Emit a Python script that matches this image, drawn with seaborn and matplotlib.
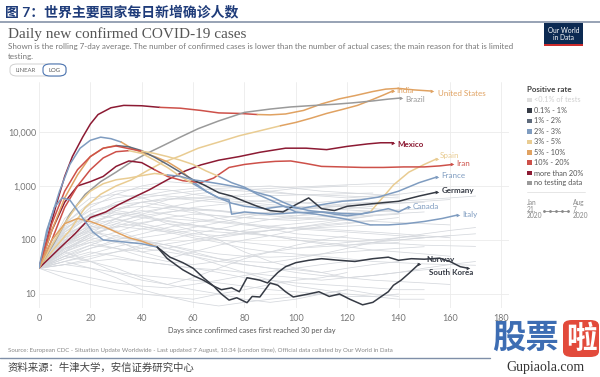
import numpy as np
import pandas as pd
import seaborn as sns
import matplotlib.pyplot as plt
from matplotlib.patches import Rectangle, FancyBboxPatch
from matplotlib.lines import Line2D

sns.set_theme(style="white")
plt.rcParams['font.family'] = ['Lato', 'Noto Sans CJK SC', 'DejaVu Sans']

# positive-rate bins (legend)
rate_labels = ['<0.1% of tests', '0.1% - 1%', '1% - 2%', '2% - 3%', '3% - 5%',
               '5% - 10%', '10% - 20%', 'more than 20%', 'no testing data']
rate_colors = ['#dedede', '#363b45', '#5e6a7b', '#7f9cc0', '#e9cc92',
               '#e0a262', '#cd5049', '#8c1a33', '#9a9a9a']

# highlighted countries: days since 30/day, 7-day avg cases, positive-rate bin periods
us_days = [0, 4, 7, 10, 13, 17, 20, 23, 28, 33, 40, 47, 55, 63, 70, 78, 85, 90, 96, 103, 110, 117, 123, 130, 135, 140, 146, 153]
us_cases = [30, 150, 500, 1500, 3500, 8000, 14000, 21000, 28000, 31000, 30500, 28500, 27500, 25000, 22500, 22000, 21000, 20700, 21500, 25000, 33000, 41000, 47000, 56000, 62000, 64000, 60000, 57000]
us_rate = [(0, 7), (45, 6), (80, 5)]

in_days = [0, 6, 12, 18, 24, 30, 36, 42, 48, 55, 62, 70, 78, 86, 94, 100, 106, 112, 118, 124, 130, 134, 138]
in_cases = [30, 70, 150, 400, 700, 1000, 1300, 1900, 2700, 3600, 5000, 6500, 8500, 10500, 13000, 15000, 18000, 22000, 26000, 31000, 40000, 48000, 58000]
in_rate = [(0, 4), (90, 5)]

br_days = [0, 6, 12, 18, 24, 30, 36, 42, 47, 55, 62, 70, 80, 90, 98, 105, 115, 122, 130, 136, 141]
br_cases = [30, 90, 300, 700, 1200, 1800, 2800, 4000, 5200, 8000, 11500, 16000, 23000, 26500, 29000, 30500, 32500, 34500, 37500, 40500, 42500]
br_rate = [(0, 8)]

mx_days = [0, 8, 14, 20, 26, 31, 37, 43, 50, 57, 63, 70, 78, 86, 96, 104, 112, 120, 128, 133, 138]
mx_cases = [30, 70, 130, 260, 330, 450, 620, 850, 1300, 1900, 2450, 3000, 3500, 4200, 5000, 5000, 4700, 5400, 6000, 6300, 6300]
mx_rate = [(0, 7)]

es_days = [0, 4, 8, 12, 16, 20, 24, 28, 32, 36, 40, 45, 50, 55, 60, 65, 70, 74, 75, 80, 90, 100, 110, 118, 125, 129, 133, 138, 144, 150, 155]
es_cases = [30, 200, 800, 2500, 5000, 7000, 8000, 7500, 6500, 5000, 4200, 3500, 2800, 2000, 1200, 800, 600, 550, 300, 330, 300, 320, 330, 310, 300, 330, 550, 1040, 1800, 2500, 3200]
es_rate = [(0, 3), (30, 5), (60, 3), (128, 4)]

ir_days = [0, 5, 10, 15, 20, 25, 30, 35, 40, 45, 50, 56, 63, 68, 74, 80, 86, 92, 98, 104, 110, 118, 126, 134, 142, 150, 156, 161]
ir_cases = [30, 150, 500, 1000, 1200, 1500, 2300, 2900, 2700, 2000, 1500, 1250, 1150, 1400, 2200, 2500, 2700, 2850, 2900, 2600, 2300, 2250, 2200, 2200, 2250, 2250, 2350, 2500]
ir_rate = [(0, 7), (45, 6)]

fr_days = [0, 5, 10, 15, 20, 25, 30, 35, 40, 45, 50, 55, 60, 65, 70, 75, 80, 88, 95, 102, 110, 118, 125, 132, 140, 148, 155]
fr_cases = [30, 100, 400, 1000, 2000, 3300, 4300, 4500, 4000, 3000, 2200, 1500, 1100, 800, 600, 480, 420, 380, 420, 380, 450, 520, 550, 620, 800, 1150, 1470]
fr_rate = [(0, 6), (35, 4), (60, 3)]

de_days = [0, 5, 10, 15, 20, 25, 30, 35, 40, 45, 50, 55, 60, 65, 70, 75, 80, 85, 90, 95, 100, 105, 110, 115, 120, 130, 140, 148, 155]
de_cases = [30, 150, 600, 1600, 3500, 5000, 5600, 5300, 4500, 3400, 2500, 1800, 1300, 1000, 750, 650, 520, 420, 350, 330, 450, 600, 380, 350, 420, 470, 520, 650, 770]
de_rate = [(0, 5), (30, 2), (60, 1)]

it_days = [0, 5, 10, 15, 20, 25, 30, 35, 40, 45, 50, 55, 60, 65, 70, 75, 80, 85, 90, 95, 100, 108, 116, 122, 129, 136, 143, 150, 157, 163]
it_cases = [30, 200, 800, 2000, 3500, 5000, 5500, 4900, 4400, 4000, 3500, 3000, 2500, 1900, 1500, 1150, 950, 700, 550, 430, 330, 300, 260, 230, 190, 190, 200, 220, 250, 290]
it_rate = [(0, 6), (40, 4), (70, 3)]

ca_days = [0, 5, 10, 15, 20, 25, 30, 35, 40, 45, 50, 55, 60, 65, 70, 75, 80, 85, 90, 95, 100, 105, 110, 115, 120, 125, 130, 136, 140, 144]
ca_cases = [30, 80, 200, 450, 800, 1100, 1300, 1400, 1550, 1700, 1600, 1500, 1300, 1200, 1100, 1000, 900, 750, 650, 500, 400, 350, 330, 300, 280, 300, 330, 380, 330, 410]
ca_rate = [(0, 4), (50, 3)]

no_days = [0, 5, 10, 15, 20, 25, 30, 35, 40, 46, 51, 56, 60, 64, 68, 71, 74, 77, 81, 83, 86, 90, 93, 96, 99, 105, 109, 113, 117, 121, 126, 130, 133, 136, 138, 141, 144, 148]
no_cases = [30, 100, 200, 250, 220, 180, 140, 110, 95, 74, 48, 38, 30, 20, 14, 10, 7.7, 8.5, 6.9, 9, 8.8, 16, 14.5, 11, 8.8, 10, 11, 9, 10, 8, 6.3, 7, 8.8, 11, 14.5, 18, 24, 36]
no_rate = [(0, 5), (46, 1)]

kr_days = [0, 3, 6, 9, 12, 15, 18, 21, 25, 30, 35, 40, 46, 50, 56, 60, 64, 68, 71, 75, 78, 81, 86, 89, 93, 96, 100, 105, 110, 117, 123, 130, 136, 140, 145, 150, 156, 160, 164, 167]
kr_cases = [30, 150, 400, 600, 550, 350, 220, 140, 100, 95, 90, 85, 74, 45, 28, 22, 18, 14, 12, 13, 11, 20, 18, 16, 25, 32, 38, 42, 45, 42, 40, 45, 48, 42, 45, 44, 46, 40, 32, 30]
kr_rate = [(0, 3), (46, 1)]

countries = {
    'United States': (us_days, us_cases, us_rate),
    'India': (in_days, in_cases, in_rate),
    'Brazil': (br_days, br_cases, br_rate),
    'Mexico': (mx_days, mx_cases, mx_rate),
    'Spain': (es_days, es_cases, es_rate),
    'Iran': (ir_days, ir_cases, ir_rate),
    'France': (fr_days, fr_cases, fr_rate),
    'Germany': (de_days, de_cases, de_rate),
    'Canada': (ca_days, ca_cases, ca_rate),
    'Italy': (it_days, it_cases, it_rate),
    'Norway': (no_days, no_cases, no_rate),
    'South Korea': (kr_days, kr_cases, kr_rate),
}

# all other countries (grey), sampled every 10 days
bg_step = 10
bg_lines = [
    [30, 120, 300, 450, 500, 420, 380, 350, 300, 320, 350, 400, 450, 500, 520, 560, 600, 650],
    [30, 80, 150, 200, 180, 150, 120, 100, 90, 80, 70, 75, 80, 90, 100, 110, 120],
    [30, 60, 90, 110, 100, 80, 60, 45, 35, 30, 28, 25, 30, 35, 40],
    [30, 200, 500, 800, 900, 850, 700, 600, 550, 500, 480, 500, 550, 600, 700, 800],
    [30, 40, 50, 60, 70, 85, 100, 120, 150, 180, 200, 220, 250, 280, 300],
    [30, 100, 250, 350, 300, 200, 150, 100, 60, 40, 30, 25, 20, 22, 25, 30, 35, 40],
    [30, 50, 40, 30, 20, 15, 12, 10, 8, 7, 8, 10, 12, 10, 9],
    [30, 150, 400, 700, 1000, 1200, 1100, 1000, 900, 800, 700, 650, 600, 650, 700],
    [30, 70, 120, 180, 250, 320, 400, 450, 500, 550, 500, 450, 400, 380, 350],
    [30, 90, 200, 300, 350, 300, 250, 220, 200, 180, 160, 150, 140, 130, 120, 110],
    [30, 45, 60, 50, 40, 35, 30, 28, 25, 22, 20, 18, 20, 22, 25, 28, 30],
    [30, 110, 180, 150, 100, 70, 50, 35, 25, 18, 14, 12, 10, 9, 8, 8],
    [30, 60, 100, 140, 200, 260, 300, 280, 260, 240, 250, 270, 300, 320],
    [30, 250, 600, 700, 600, 450, 350, 250, 200, 160, 130, 120, 110, 100, 100, 110, 120, 130],
    [30, 35, 45, 60, 80, 100, 130, 160, 200, 240, 280, 330, 380, 420],
    [30, 130, 200, 240, 200, 160, 130, 120, 130, 150, 170, 190, 210, 230],
    [30, 70, 90, 70, 50, 40, 35, 40, 50, 60, 70, 80, 90, 100, 110, 120],
    [30, 180, 350, 450, 600, 700, 800, 900, 950, 1000, 900, 800, 750, 700, 650],
    [30, 40, 30, 20, 12, 9, 7, 6, 7, 8, 9, 10, 12],
    [30, 100, 150, 100, 60, 45, 60, 80, 100, 120, 150, 180, 200, 230, 260],
    [30, 55, 80, 120, 160, 200, 180, 160, 140, 120, 100, 90, 80, 85, 90],
    [30, 160, 300, 250, 180, 140, 110, 90, 70, 60, 55, 50, 45, 40, 38, 36, 35, 34],
    [30, 80, 180, 350, 500, 600, 550, 500, 450, 420, 400, 380, 360, 340, 330],
    [30, 35, 40, 45, 40, 35, 30, 25, 20, 18, 16, 15, 14, 13, 12, 12],
    [30, 90, 140, 120, 90, 70, 55, 45, 40, 38, 45, 55, 70, 90, 110, 130, 150, 170],
    [30, 65, 110, 200, 300, 400, 500, 600, 700, 800, 900, 950, 1000],
    [30, 20, 15, 12, 10, 9, 8, 10, 12, 15, 18, 20, 25],
    [30, 140, 260, 380, 420, 380, 320, 280, 260, 240, 230, 250, 270, 290, 310, 330],
    [30, 75, 130, 170, 210, 250, 230, 210, 190, 170, 160, 170, 180, 190],
    [30, 50, 70, 90, 110, 130, 150, 140, 130, 120, 110, 100, 95, 90, 85, 80, 78, 76],
    [30, 90, 160, 220, 280, 330, 360, 340, 300, 280, 260, 240, 230, 220, 210, 200, 190],
    [30, 45, 70, 100, 130, 170, 210, 250, 290, 330, 370, 400, 430, 460, 480, 500],
    [30, 120, 220, 300, 260, 220, 190, 160, 140, 150, 170, 200, 240, 280],
    [30, 25, 20, 16, 14, 13, 15, 18, 22, 26, 30, 35, 40, 45],
    [30, 60, 40, 25, 18, 15, 20, 30, 45, 60, 80, 100, 120],
    [30, 200, 450, 600, 700, 650, 600, 550, 500, 450, 420, 400, 420, 450, 480, 520, 560],
    [30, 140, 300, 500, 650, 800, 900, 850, 800, 750, 700, 680, 650, 620, 600],
    [30, 70, 110, 90, 70, 60, 50, 40, 35, 30, 25, 22, 20, 18, 17, 16, 15],
    [30, 35, 30, 25, 22, 20, 18, 16, 14, 12, 11, 10, 9, 9, 10],
    [30, 80, 130, 180, 160, 140, 170, 210, 260, 320, 380, 430, 470, 500],
    [30, 110, 240, 380, 500, 560, 600, 620, 640, 660, 680, 700, 720, 740],
    [30, 50, 80, 70, 60, 70, 90, 110, 130, 150, 170, 160, 150, 140, 130, 120, 110],
    [30, 95, 170, 250, 330, 400, 380, 350, 320, 300, 280, 300, 320, 340, 360, 380],
    [30, 40, 55, 75, 95, 80, 65, 55, 50, 48, 50, 55, 60, 65, 70, 75],
    [30, 170, 280, 320, 280, 230, 190, 160, 140, 120, 100, 85, 75, 65, 60, 55, 50],
    [30, 60, 130, 250, 400, 550, 700, 800, 850, 900, 950, 1000, 1050, 1100, 1100],
]

x_ticks = [0, 20, 40, 60, 80, 100, 120, 140, 160, 180]
y_ticks = [10, 100, 1000, 10000]
y_ticklabels = ['10', '100', '1,000', '10,000']

# ---- tidy frames
bg_rows = []
for k, vals in enumerate(bg_lines):
    for j, v in enumerate(vals):
        bg_rows.append((k, j * bg_step, v))
bg_df = pd.DataFrame(bg_rows, columns=['id', 'day', 'cases'])

def rate_at(periods, day):
    b = periods[0][1]
    for start, bin_ in periods:
        if day >= start:
            b = bin_
    return b

seg_rows, seg_pal = [], {}
for name, (d, c, periods) in countries.items():
    bins = [rate_at(periods, x) for x in d[:-1]]
    s = 0
    k = 0
    for i in range(1, len(d)):
        if i == len(d) - 1 or bins[i] != bins[s]:
            sid = f'{name}_{k}'
            seg_pal[sid] = rate_colors[bins[s]]
            for j in range(s, i + 1):
                seg_rows.append((sid, d[j], c[j]))
            s = i
            k += 1
seg_df = pd.DataFrame(seg_rows, columns=['seg', 'day', 'cases'])

# ---- figure
W, H = 600, 377
fig = plt.figure(figsize=(W / 100, H / 100), dpi=100)
fig.patch.set_facecolor('white')
def fx(px): return px / W
def fy(py): return 1 - py / H

ax = fig.add_axes([fx(39), fy(308), (509 - 39) / W, (308 - 82) / H])
ax.set_yscale('log')
ax.set_xlim(0, 183)
ax.set_ylim(5.5, 84000)

sns.lineplot(data=bg_df, x='day', y='cases', units='id', estimator=None,
             color='#d5d8dd', lw=0.55, ax=ax, legend=False)
sns.lineplot(data=seg_df, x='day', y='cases', hue='seg', palette=seg_pal,
             estimator=None, sort=False, lw=1.1, ax=ax, legend=False)

label_style = {
    'United States': (4, -2, False), 'India': (2, 0, False), 'Brazil': (3, -1, False),
    'Mexico': (3, -1, True), 'Spain': (2, 2, False), 'Iran': (3, 1, False),
    'France': (3, 1, False), 'Germany': (3, 1, True), 'Canada': (3, 0, False),
    'Italy': (3, 0, False), 'Norway': (5, 3, True), 'South Korea': (-28, -3, True),
}
for name, (d, c, periods) in countries.items():
    col = rate_colors[rate_at(periods, d[-2])]
    ax.plot(d[-1], c[-1], marker='>', ms=2.6, color=col, mew=0)
    dx, dy, bold = label_style[name]
    ax.annotate(name, (d[-1], c[-1]), xytext=(dx, dy), textcoords='offset points',
                va='center', ha='left', fontsize=5.8, color=col,
                fontweight='bold' if bold else 'normal')

ax.set_xticks(x_ticks)
ax.set_yticks(y_ticks)
ax.set_yticklabels(y_ticklabels)
ax.minorticks_off()
ax.tick_params(axis='both', labelsize=6.5, colors='#777', length=0)
ax.tick_params(axis='y', pad=2)
ax.tick_params(axis='x', pad=4)
ax.grid(True, color='#ebebeb', lw=0.6)
for sp in ax.spines.values():
    sp.set_visible(False)
ax.set_xlabel('')
ax.set_ylabel('')

# ---- header
fig.text(fx(5), fy(11), '图 7：世界主要国家每日新增确诊人数', fontsize=10, fontweight='bold',
         color='#1f3c7a', va='center', ha='left')
fig.add_artist(Line2D([0, 1], [fy(22), fy(22)], color='#8592a8', lw=1.2))
fig.text(fx(8), fy(34), 'Daily new confirmed COVID-19 cases', fontsize=11,
         family='Liberation Serif', color='#555', va='center')
fig.text(fx(8), fy(46), 'Shown is the rolling 7-day average. The number of confirmed cases is lower '
         'than the number of actual cases; the main reason for that is limited',
         fontsize=5.8, color='#777', va='center')
fig.text(fx(8), fy(56), 'testing.', fontsize=5.8, color='#777', va='center')

fig.add_artist(FancyBboxPatch((fx(10), fy(76)), fx(56), (76 - 64) / H,
                              boxstyle='round,pad=0,rounding_size=0.012',
                              fc='white', ec='#d0d0d0', lw=0.7))
fig.add_artist(FancyBboxPatch((fx(43), fy(76)), fx(23), (76 - 64) / H,
                              boxstyle='round,pad=0,rounding_size=0.012',
                              fc='white', ec='#4f77b3', lw=0.8))
fig.text(fx(26), fy(70), 'LINEAR', fontsize=4.3, color='#666', ha='center', va='center')
fig.text(fx(54.5), fy(70), 'LOG', fontsize=4.3, color='#555', ha='center', va='center')

fig.add_artist(Rectangle((fx(544), fy(45)), fx(39), (45 - 23) / H, fc='#0c2a52', ec='none'))
fig.add_artist(Rectangle((fx(544), fy(46)), fx(39), 2 / H, fc='#cc2b2b', ec='none'))
fig.text(fx(563.5), fy(34), 'Our World\nin Data', fontsize=4.8, color='white',
         ha='center', va='center', linespacing=1.0)

# ---- legend
fig.text(fx(527), fy(90), 'Positive rate', fontsize=5.8, fontweight='bold', color='#444', va='center')
leg_y = [100, 110.5, 121, 131.5, 142, 152.5, 162.5, 173, 183]
for i, (lab, col) in enumerate(zip(rate_labels, rate_colors)):
    y = leg_y[i]
    fig.add_artist(Rectangle((fx(527), fy(y + 2.3)), 4.6 / W, 4.6 / H, fc=col, ec='none'))
    fig.text(fx(534), fy(y), lab, fontsize=5.3, va='center',
             color='#cfcfcf' if i == 0 else '#555')
fig.add_artist(Line2D([fx(527), fx(585)], [fy(192), fy(192)], color='#e2e2e2', lw=0.6))
fig.text(fx(527), fy(209), 'Jan\n21,\n2020', fontsize=4.8, color='#888', va='center', linespacing=0.95)
fig.text(fx(573), fy(209), 'Aug\n7,\n2020', fontsize=4.8, color='#888', va='center', linespacing=0.95)
fig.add_artist(Line2D([fx(544), fx(550), fx(556), fx(562), fx(568)], [fy(211)] * 5,
                      color='#888', lw=0.6, marker='.', ms=2))

# ---- footer
fig.text(fx(252), fy(331), 'Days since confirmed cases first reached 30 per day',
         fontsize=5.3, color='#555', ha='center', va='center')
fig.text(fx(8), fy(350), 'Source: European CDC - Situation Update Worldwide - Last updated 7 August, '
         '10:34 (London time), Official data collated by Our World in Data',
         fontsize=4.4, color='#888', va='center')
fig.add_artist(Line2D([0, fx(490)], [fy(358), fy(358)], color='#7f8fa8', lw=1.0))
fig.text(fx(8), fy(368), '资料来源：牛津大学，安信证券研究中心', fontsize=7.5, color='#444',
         va='center', style='italic')

# watermark
fig.text(fx(492), fy(338), '股票', fontsize=24, fontweight='bold', color='#3d6db3', va='center')
fig.add_artist(FancyBboxPatch((fx(563), fy(357)), fx(36), (357 - 320) / H,
                              boxstyle='round,pad=0,rounding_size=0.015', fc='#e24a3b', ec='none'))
fig.text(fx(581), fy(338), '啦', fontsize=22, fontweight='bold', color='white', ha='center', va='center')
fig.text(fx(545), fy(367), 'Gupiaola.com', fontsize=10, family='Liberation Serif',
         color='#333', ha='center', va='center')

fig.savefig('out.png', dpi=100)
